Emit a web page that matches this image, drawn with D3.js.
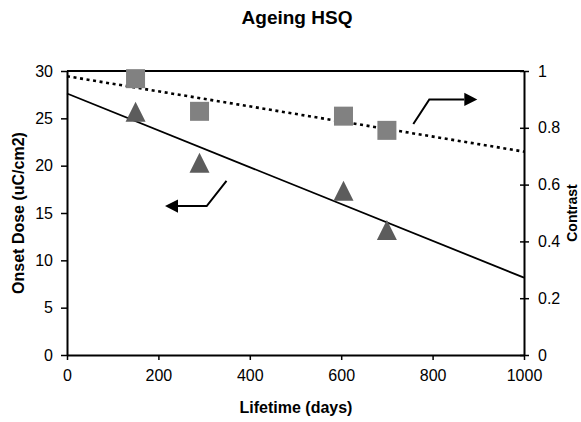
<!DOCTYPE html>
<html>
<head>
<meta charset="utf-8">
<script src="https://cdn.jsdelivr.net/npm/d3@7"></script>
<style>
  html, body { margin: 0; padding: 0; background: #fff; }
  svg { display: block; font-family: "Liberation Sans", Arial, sans-serif; }
</style>
</head>
<body>
<svg id="chart" width="581" height="422"></svg>
<script>
// Sample lifetime (days) for each measurement
const lifetimeDays = [150, 290, 605, 700];
// Onset dose (uC/cm2), left axis
const onsetDose = [25.7, 20.3, 17.35, 13.2];
// Contrast, right axis
const contrast = [0.973, 0.858, 0.841, 0.791];

const xTicks = [0, 200, 400, 600, 800, 1000];
const leftTicks = [0, 5, 10, 15, 20, 25, 30];
const rightTicks = [0, 0.2, 0.4, 0.6, 0.8, 1];

// Annotation arrows, in data units (days, onset dose)
const doseArrow = [[349, 18.4], [305.7, 15.73], [214.4, 15.73]];
const contrastArrow = [[757.8, 24.4], [792.8, 27.0], [897.8, 27.0]];

const svg = d3.select("#chart");
const plotLeft = 67, plotRight = 524, plotTop = 71, plotBottom = 355;

const x = d3.scaleLinear().domain([0, 1000]).range([plotLeft, plotRight]);
const yL = d3.scaleLinear().domain([0, 30]).range([plotBottom, plotTop]);
const yR = d3.scaleLinear().domain([0, 1]).range([plotBottom, plotTop]);

// Least-squares linear fit used for the trendlines
function fit(xs, ys) {
  const mx = d3.mean(xs), my = d3.mean(ys);
  let sxy = 0, sxx = 0;
  xs.forEach((v, i) => { sxy += (v - mx) * (ys[i] - my); sxx += (v - mx) * (v - mx); });
  const slope = sxy / sxx;
  return { slope, intercept: my - slope * mx };
}

// Title
svg.append("text").attr("x", 297).attr("y", 24)
  .attr("text-anchor", "middle").attr("font-size", 19).attr("font-weight", "bold")
  .text("Ageing HSQ");

// Top border of the plot area
svg.append("line").attr("x1", plotLeft).attr("x2", plotRight).attr("y1", plotTop).attr("y2", plotTop)
  .attr("stroke", "#000").attr("stroke-width", 2);

// Axes
const xAxis = svg.append("g").attr("transform", `translate(0,${plotBottom})`)
  .call(d3.axisBottom(x).tickValues(xTicks).tickFormat(d3.format("d")).tickSize(5).tickSizeOuter(0).tickPadding(10));
const lAxis = svg.append("g").attr("transform", `translate(${plotLeft},0)`)
  .call(d3.axisLeft(yL).tickValues(leftTicks).tickSize(6).tickSizeOuter(0).tickPadding(8));
const rAxis = svg.append("g").attr("transform", `translate(${plotRight},0)`)
  .call(d3.axisRight(yR).tickValues(rightTicks).tickFormat(d3.format("")).tickSize(5).tickSizeOuter(0).tickPadding(9));
rAxis.selectAll(".tick line").attr("x1", -4);

[xAxis, lAxis, rAxis].forEach(g => {
  g.select(".domain").attr("stroke", "#000").attr("stroke-width", 2);
  g.selectAll(".tick line").attr("stroke", "#000").attr("stroke-width", 1.5);
  g.selectAll(".tick text").attr("font-size", 16).attr("fill", "#000")
    .attr("font-family", "'Liberation Sans', Arial, sans-serif");
});

// Axis titles
svg.append("text").attr("x", 296).attr("y", 413)
  .attr("text-anchor", "middle").attr("font-size", 16).attr("font-weight", "bold")
  .text("Lifetime (days)");
svg.append("text").attr("transform", `translate(24,${(plotTop + plotBottom) / 2}) rotate(-90)`)
  .attr("text-anchor", "middle").attr("font-size", 16).attr("font-weight", "bold")
  .text("Onset Dose (uC/cm2)");
svg.append("text").attr("transform", `translate(577,${(plotTop + plotBottom) / 2}) rotate(-90)`)
  .attr("text-anchor", "middle").attr("font-size", 14).attr("font-weight", "bold")
  .text("Contrast");

// Trendlines
const doseFit = fit(lifetimeDays, onsetDose);
const contrastFit = fit(lifetimeDays, contrast);
const line = d3.line();

svg.append("path")
  .attr("d", line([0, 1000].map(d => [x(d), yR(contrastFit.intercept + contrastFit.slope * d)])))
  .attr("fill", "none").attr("stroke", "#000").attr("stroke-width", 2.6)
  .attr("stroke-dasharray", "3,3.6");
svg.append("path")
  .attr("d", line([0, 1000].map(d => [x(d), yL(doseFit.intercept + doseFit.slope * d)])))
  .attr("fill", "none").attr("stroke", "#000").attr("stroke-width", 1.8);

// Contrast markers (squares)
const sq = 19;
svg.append("g").selectAll("rect").data(lifetimeDays).join("rect")
  .attr("x", d => x(d) - sq / 2)
  .attr("y", (d, i) => yR(contrast[i]) - sq / 2)
  .attr("width", sq).attr("height", sq)
  .attr("fill", "#818181");

// Onset dose markers (triangles)
const tri = 20;
svg.append("g").selectAll("path").data(lifetimeDays).join("path")
  .attr("d", (d, i) => {
    const cx = x(d), cy = yL(onsetDose[i]);
    return `M${cx},${cy - tri / 2}L${cx + tri / 2},${cy + tri / 2}L${cx - tri / 2},${cy + tri / 2}Z`;
  })
  .attr("fill", "#5c5c5c");

// Annotation arrows
function arrow(pts) {
  const p = pts.map(([a, b]) => [x(a), yL(b)]);
  const tip = p[p.length - 1], prev = p[p.length - 2];
  const ang = Math.atan2(tip[1] - prev[1], tip[0] - prev[0]);
  const len = 13, hw = 6.7;
  const base = [tip[0] - len * Math.cos(ang), tip[1] - len * Math.sin(ang)];
  const shaft = p.slice(0, -1).concat([base]);
  svg.append("path").attr("d", line(shaft))
    .attr("fill", "none").attr("stroke", "#000").attr("stroke-width", 2);
  const nx = -Math.sin(ang), ny = Math.cos(ang);
  svg.append("path")
    .attr("d", `M${tip[0]},${tip[1]}L${base[0] + nx * hw},${base[1] + ny * hw}L${base[0] - nx * hw},${base[1] - ny * hw}Z`)
    .attr("fill", "#000");
}
arrow(doseArrow);
arrow(contrastArrow);
</script>
</body>
</html>
